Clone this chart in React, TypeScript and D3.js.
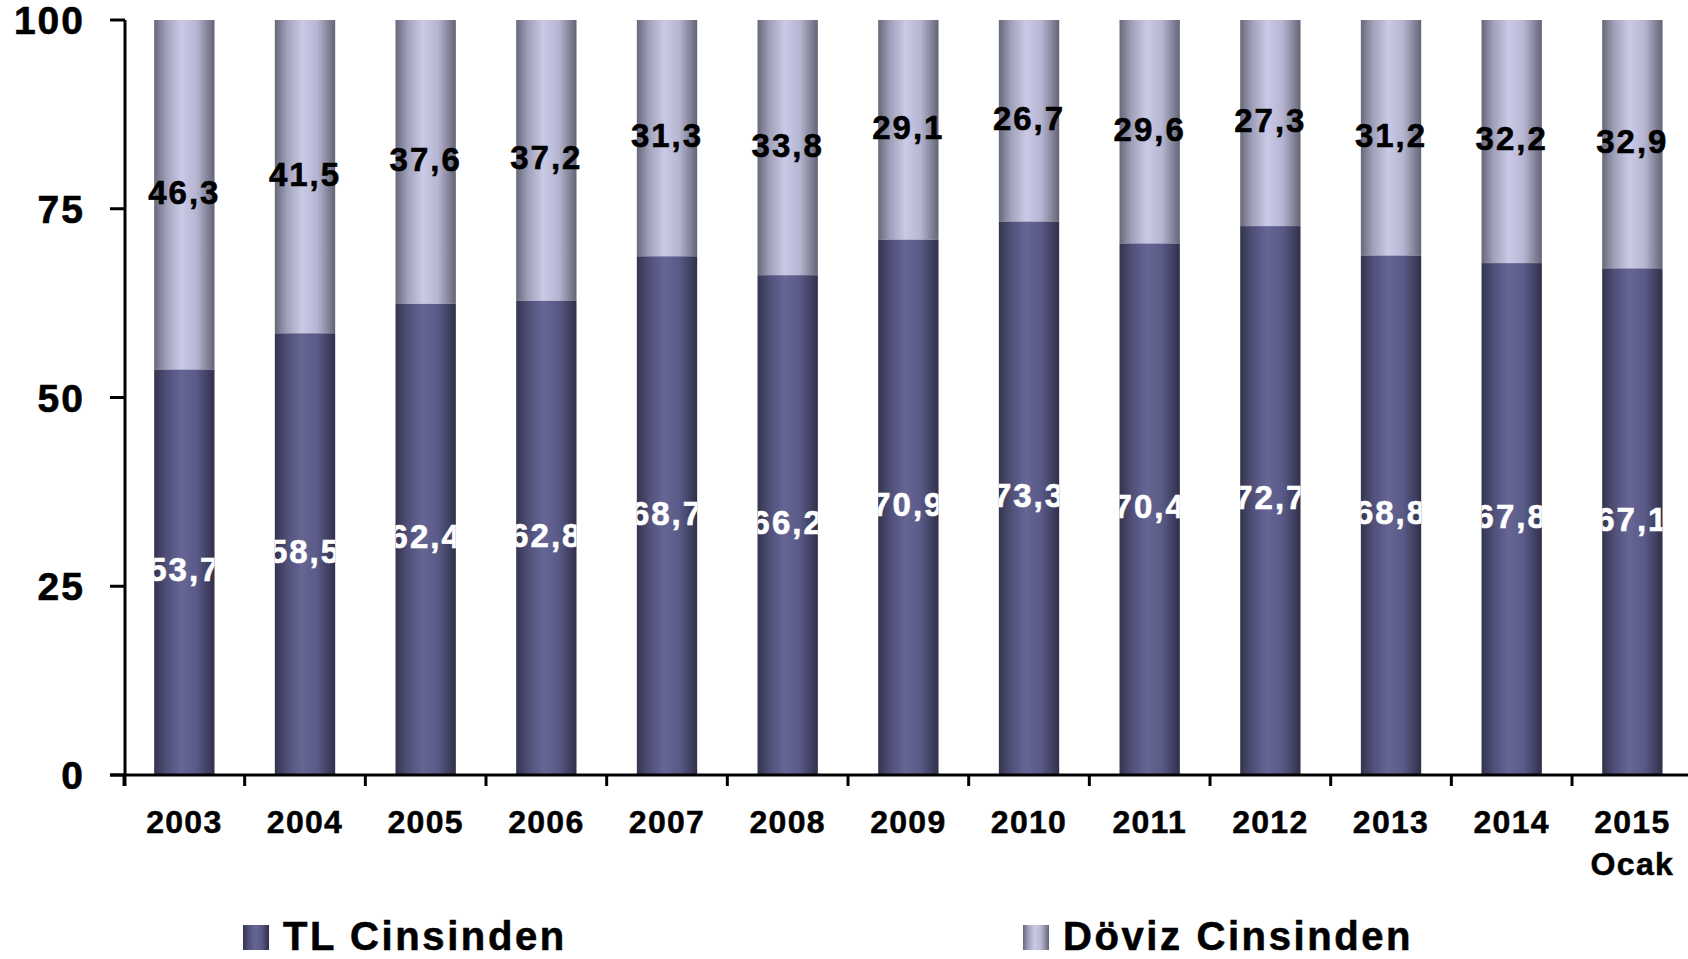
import React from "react";
import * as d3 from "d3";

const categories = ["2003", "2004", "2005", "2006", "2007", "2008", "2009", "2010", "2011", "2012", "2013", "2014", "2015"];
const categorySub = ["", "", "", "", "", "", "", "", "", "", "", "", "Ocak"];
const tlValues = [53.7, 58.5, 62.4, 62.8, 68.7, 66.2, 70.9, 73.3, 70.4, 72.7, 68.8, 67.8, 67.1];
const dovizValues = [46.3, 41.5, 37.6, 37.2, 31.3, 33.8, 29.1, 26.7, 29.6, 27.3, 31.2, 32.2, 32.9];
const yTicks = [0, 25, 50, 75, 100];
const seriesNames = ["TL Cinsinden", "Döviz Cinsinden"];

const W = 1688;
const H = 959;
const left = 124;
const right = 1692.7;
const top = 20;
const bottom = 775;
const FONT = "'Liberation Sans', Arial, Helvetica, sans-serif";

const fmt = (v: number) => v.toFixed(1).replace(".", ",");

export default function App() {
  const x = d3.scaleBand<string>().domain(categories).range([left, right]).paddingInner(0.5).paddingOuter(0.25);
  const y = d3.scaleLinear().domain([0, 100]).range([bottom, top]);
  const step = x.step();
  const bw = x.bandwidth();

  return (
    <svg width={W} height={H} style={{ position: "absolute", left: 0, top: 0, background: "#fff" }} fontFamily={FONT}>
      <defs>
        <linearGradient id="gTL" x1="0" x2="1" y1="0" y2="0">
          <stop offset="0" stopColor="#34344e" />
          <stop offset="0.2" stopColor="#4f4f78" />
          <stop offset="0.45" stopColor="#666696" />
          <stop offset="0.7" stopColor="#5a5a88" />
          <stop offset="1" stopColor="#30304a" />
        </linearGradient>
        <linearGradient id="gDV" x1="0" x2="1" y1="0" y2="0">
          <stop offset="0" stopColor="#68687a" />
          <stop offset="0.2" stopColor="#a0a0ba" />
          <stop offset="0.45" stopColor="#cacae6" />
          <stop offset="0.7" stopColor="#b6b6d2" />
          <stop offset="1" stopColor="#646476" />
        </linearGradient>
        {categories.map((c, i) => (
          <clipPath id={`clip${i}`} key={c}>
            <rect x={x(c)!} y={top} width={bw} height={bottom - top} />
          </clipPath>
        ))}
      </defs>

      {categories.map((c, i) => {
        const x0 = x(c)!;
        const tl = tlValues[i];
        const dv = dovizValues[i];
        const cx = x0 + bw / 2;
        return (
          <g key={c}>
            <rect x={x0} y={y(tl + dv)} width={bw} height={y(tl) - y(tl + dv)} fill="url(#gDV)" />
            <rect x={x0} y={y(tl)} width={bw} height={y(0) - y(tl)} fill="url(#gTL)" />
            <g clipPath={`url(#clip${i})`}>
              <text x={cx} y={y(tl / 2)} dy="0.27em" textAnchor="middle" fontSize={33} fontWeight="bold" fill="#fff" stroke="#fff" strokeWidth={0.6} letterSpacing={2}>
                {fmt(tl)}
              </text>
            </g>
            <text x={cx} y={y(tl + dv / 2)} dy="0.27em" textAnchor="middle" fontSize={33} fontWeight="bold" fill="#000" stroke="#000" strokeWidth={0.6} letterSpacing={2}>
              {fmt(dv)}
            </text>
          </g>
        );
      })}

      {/* Y axis */}
      <line x1={125} x2={125} y1={top} y2={786} stroke="#000" strokeWidth={3} />
      {yTicks.map((t) => (
        <g key={t}>
          <line x1={110} x2={125} y1={y(t)} y2={y(t)} stroke="#000" strokeWidth={3} />
          <text x={85} y={y(t)} dy="0.36em" textAnchor="end" fontSize={39} fontWeight="bold" stroke="#000" strokeWidth={0.6} letterSpacing={2}>
            {t}
          </text>
        </g>
      ))}

      {/* X axis */}
      <line x1={110} x2={W} y1={bottom} y2={bottom} stroke="#000" strokeWidth={3} />
      {categories.map((c, i) => {
        const bx = left + i * step;
        return <line key={c} x1={bx} x2={bx} y1={bottom} y2={786} stroke="#000" strokeWidth={3} />;
      })}
      {categories.map((c, i) => {
        const cx = x(c)! + bw / 2;
        return (
          <g key={c}>
            <text x={cx} y={833} textAnchor="middle" fontSize={32} fontWeight="bold" stroke="#000" strokeWidth={0.5} letterSpacing={1.3}>
              {c}
            </text>
            {categorySub[i] && (
              <text x={cx} y={875} textAnchor="middle" fontSize={32} fontWeight="bold" stroke="#000" strokeWidth={0.5} letterSpacing={1.3}>
                {categorySub[i]}
              </text>
            )}
          </g>
        );
      })}

      {/* Legend */}
      <rect x={243} y={925} width={26} height={25} fill="url(#gTL)" />
      <text x={283} y={950} fontSize={40} fontWeight="bold" stroke="#000" strokeWidth={0.6} letterSpacing={2.6}>
        {seriesNames[0]}
      </text>
      <rect x={1023} y={925} width={26} height={25} fill="url(#gDV)" />
      <text x={1063} y={950} fontSize={40} fontWeight="bold" stroke="#000" strokeWidth={0.6} letterSpacing={2.6}>
        {seriesNames[1]}
      </text>
    </svg>
  );
}
